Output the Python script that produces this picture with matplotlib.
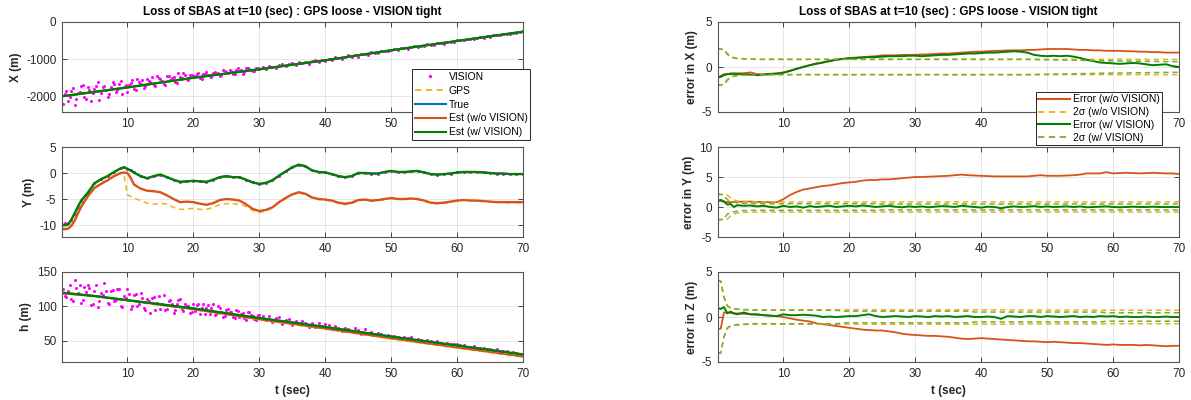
"""
Position estimate vs. truth and estimation errors after SBAS loss
(GPS loose coupling, VISION tight coupling).
"""

import numpy as np
import matplotlib.pyplot as plt
from matplotlib.lines import Line2D

plt.rcParams['font.family'] = ['Liberation Sans', 'DejaVu Sans']
plt.rcParams['axes.unicode_minus'] = False

C_BLUE = '#0072BD'
C_ORANGE = '#D95319'
C_YELLOW = '#EDB120'
C_GREEN = '#008000'
C_LGREEN = '#77AC30'
C_VISION = '#FF00FF'
C_AX = '#262626'

# --- VISION measurements (every 0.5 s, plus extra samples in the first 30 s) ---
t_vis = np.arange(0.5, 70.5, 0.5)
t_vis2 = np.arange(0.25, 30, 0.5)

vis_x = [
    -1928, -2126, -1844, -2232, -1910, -1728, -2006, -1744, -2112, -1790,
    -1618, -1916, -1714, -2012, -1750, -1658, -1836, -1594, -1752, -1870,
    -1627, -1794, -1541, -1668, -1785, -1532, -1609, -1686, -1443, -1540,
    -1667, -1464, -1561, -1468, -1635, -1472, -1379, -1546, -1413, -1450,
    -1399, -1517, -1406, -1344, -1463, -1361, -1390, -1458, -1297, -1345,
    -1294, -1392, -1291, -1319, -1388, -1246, -1265, -1313, -1232, -1260,
    -1218, -1276, -1184, -1212, -1250, -1168, -1126, -1194, -1142, -1110,
    -1168, -1076, -1114, -1072, -1130, -1058, -1016, -1064, -1012, -1050,
    -986, -1023, -949, -976, -992, -929, -895, -932, -888, -935,
    -851, -858, -874, -811, -827, -844, -780, -777, -783, -740,
    -727, -745, -697, -710, -717, -670, -647, -670, -637, -655,
    -602, -605, -612, -565, -572, -580, -532, -530, -532, -495,
    -482, -495, -452, -460, -462, -425, -402, -420, -387, -400,
    -357, -360, -357, -320, -322, -325, -287, -285, -282, -255,
]
vis_x2 = [
    -2194, -1842, -2030, -1778, -2076, -1894, -1692, -2080, -1818, -1906,
    -1714, -2102, -1750, -1828, -1946, -1604, -1872, -1670, -1928, -1706,
    -1693, -1570, -1827, -1624, -1571, -1728, -1575, -1482, -1709, -1516,
    -1573, -1690, -1447, -1514, -1601, -1368, -1505, -1422, -1569, -1426,
    -1454, -1383, -1521, -1390, -1428, -1477, -1335, -1364, -1432, -1311,
    -1369, -1308, -1396, -1245, -1303, -1342, -1250, -1279, -1317, -1236,
]

vis_h = [
    115.5, 122, 110.5, 138, 119.5, 105, 128.5, 131, 101.5, 123,
    99.5, 119, 133.5, 105, 122, 107.5, 125, 100, 115.5, 125,
    96.4, 115.8, 101.2, 119.6, 97, 110.4, 90.8, 113.2, 105.6, 96,
    116.4, 96.8, 109.2, 90.6, 104, 110.4, 92.8, 101.2, 89.6, 104,
    102.3, 88.6, 103.9, 98.2, 88.5, 102.8, 89.1, 97.4, 84.7, 95,
    91.3, 84.6, 94.9, 85.2, 90.5, 80.8, 91.1, 85.4, 80.7, 88,
    86.4, 79.7, 86.1, 77.4, 82.8, 85.1, 74.5, 79.8, 81.2, 73.5,
    78.9, 74.2, 78.6, 75.9, 70.3, 75.6, 70, 75.3, 71.7, 75,
    72.3, 66.6, 71.9, 68.2, 63.5, 68.8, 67.1, 63.4, 68.7, 65,
    60.3, 67.6, 61.9, 63.2, 58.5, 61.8, 60.1, 56.4, 58.7, 57,
    57.4, 55.7, 53, 55.4, 53.8, 55.1, 50.5, 52.8, 51.2, 49.5,
    50.9, 49.2, 46.6, 48.9, 47.3, 45.6, 47, 45.3, 44.7, 45,
    43.4, 43.7, 41.1, 41.4, 41.8, 38.1, 39.5, 39.8, 37.2, 37.5,
    36.9, 37.2, 34.6, 34.9, 34.3, 32.6, 33, 32.3, 30.7, 31,
]
vis_h2 = [
    125.75, 113.25, 130.75, 108.25, 126.75, 131.25, 108.75, 120.25, 126.75, 103.25,
    131.75, 108.25, 116.75, 122.25, 103.5, 123.75, 109.25, 125.5, 98.75, 112.25,
    117.7, 101.1, 118.5, 102.9, 112.3, 94.7, 108.1, 112.5, 94.9, 115.3,
    103.7, 94.1, 107.5, 103.9, 94.3, 108.7, 96.1, 103.5, 99.9, 91.3,
    92.65, 102.95, 97.25, 88.55, 101.85, 97.15, 87.45, 100.75, 92.05, 86.35,
    95.65, 91.95, 83.25, 92.55, 88.85, 83.15, 92.45, 86.75, 82.05, 87.35,
]

# --- X and h trajectories (every 5 s) ---
t5 = np.arange(0, 75, 5)
x_true = [-2000, -1880, -1760, -1630, -1500, -1385, -1270, -1150,
          -1030, -895, -760, -635, -510, -385, -260]
h_true = [120, 115, 109, 103, 97, 90, 83, 76.5, 70, 63, 56, 49.5, 43, 36.5, 30]
h_est_wo = [119, 115.3, 109, 102.3, 95.8, 88.5, 81, 74.3, 67.6, 60.4,
            53.2, 46.6, 39.9, 33.4, 26.8]
h_gps = [118.5, 114.5, 108, 101.5, 95, 88, 80.5, 73.5, 66.8, 59.8,
         52.8, 46, 39.3, 32.7, 26]
h_est_w = [120, 115, 109, 103, 97, 90, 83, 76.6, 70, 63, 56, 49.5, 43, 36.5, 30]

# --- Y trajectory ---
t_y = [0, 0.5, 1, 1.5, 2, 2.5, 3, 4, 5, 6, 7, 8, 9, 9.5, 10, 10.5] + list(range(11, 71))
y_est_w = [
    -9.9, -10, -9.9, -9, -7.8, -6.5, -5.3, -3.8, -2.0, -1.2, -0.6, 0.2, 0.9, 1.1, 0.8, 0.5,
    0.1, -0.6, -1.0, -0.6, -0.3, -0.8, -1.3, -1.7, -1.6, -1.5,
    -1.6, -1.7, -1.3, -0.8, -0.6, -0.8, -0.8, -1.3, -1.8, -2.1,
    -1.9, -1.4, -0.5, 0.3, 1.1, 1.6, 1.3, 0.5, 0.2, 0.1,
    -0.2, -0.6, -0.8, -0.6, 0.0, 0.0, -0.1, -0.1, 0.2, 0.4,
    0.2, 0.2, 0.3, 0.4, 0.1, -0.2, -0.3, -0.2, -0.1, 0.1,
    0.2, 0.2, 0.2, 0.1, 0.0, -0.1, -0.1, -0.2, -0.2, -0.2,
]
y_true = [-10.1, -10.1, -10.0] + y_est_w[3:]
y_vis = [-9.5, -9.6, -9.6] + y_est_w[3:]
y_est_wo = [
    -10.8, -10.8, -10.7, -10.2, -9.2, -7.8, -6.5, -4.5, -2.9, -2.1, -1.4, -0.6, 0.0, 0.1, 0.0, -0.9,
    -2.2, -3.0, -3.4, -3.5, -3.7, -4.3, -5.0, -5.6, -5.5, -5.6,
    -5.9, -6.1, -5.8, -5.2, -5.0, -5.1, -5.3, -6.0, -6.9, -7.3,
    -7.1, -6.6, -5.6, -4.8, -4.1, -3.7, -4.0, -4.7, -5.0, -5.1,
    -5.3, -5.7, -5.9, -5.7, -5.2, -5.1, -5.3, -5.2, -5.0, -4.8,
    -5.0, -5.0, -4.9, -5.0, -5.3, -5.7, -5.8, -5.7, -5.5, -5.3,
    -5.2, -5.3, -5.3, -5.4, -5.5, -5.6, -5.6, -5.6, -5.6, -5.6,
]
y_gps = [
    -10.6, -10.7, -10.6, -10.0, -9.0, -7.6, -6.3, -4.4, -2.8, -2.0, -1.3, -0.5, 0.1, -0.2, -4.2, -4.5,
    -4.8, -5.3, -5.8, -6.0, -5.8, -6.0, -6.6, -7.0, -6.9, -6.8,
    -7.0, -7.0, -6.6, -6.1, -5.9, -5.9, -6.0, -6.4, -7.2, -7.6,
    -7.3, -6.7, -5.7, -4.9, -4.2, -3.8, -4.1, -4.8, -5.1, -5.2,
    -5.4, -5.8, -6.1, -5.9, -5.3, -5.2, -5.4, -5.3, -5.1, -4.9,
    -5.0, -5.1, -5.0, -5.1, -5.4, -5.8, -5.9, -5.8, -5.6, -5.3,
    -5.2, -5.2, -5.3, -5.4, -5.5, -5.6, -5.7, -5.7, -5.7, -5.7,
]

# --- estimation errors and 2-sigma bounds ---
t_e = [0, 0.5, 1, 1.5, 2, 2.5, 3] + list(range(4, 71))

ex_wo = [
    -1.2, -1.0, -0.8, -0.8, -0.7, -0.7, -0.7,
    -0.7, -0.6, -0.8, -0.8, -0.75, -0.7, -0.6,
    -0.4, -0.2, 0.0, 0.2, 0.4, 0.5, 0.7, 0.8, 0.9, 1.0,
    1.05, 1.1, 1.15, 1.2, 1.3, 1.3, 1.3, 1.35, 1.35, 1.35,
    1.4, 1.4, 1.45, 1.5, 1.5, 1.55, 1.6, 1.65, 1.7, 1.7,
    1.75, 1.8, 1.8, 1.85, 1.85, 1.85, 1.9, 1.9, 1.95, 2.0,
    2.0, 2.0, 2.0, 1.95, 1.9, 1.9, 1.85, 1.85, 1.8, 1.8,
    1.8, 1.75, 1.75, 1.7, 1.7, 1.65, 1.65, 1.6, 1.6, 1.6,
]
ex_w = [
    -1.2, -1.1, -0.9, -0.8, -0.8, -0.75, -0.8,
    -0.8, -0.85, -0.9, -0.85, -0.8, -0.75, -0.65,
    -0.45, -0.2, 0.0, 0.2, 0.35, 0.5, 0.65, 0.8, 0.9, 0.95,
    1.0, 1.05, 1.1, 1.1, 1.15, 1.2, 1.2, 1.2, 1.25, 1.25,
    1.2, 1.25, 1.3, 1.35, 1.35, 1.4, 1.45, 1.5, 1.5, 1.55,
    1.6, 1.6, 1.65, 1.7, 1.75, 1.7, 1.6, 1.35, 1.25, 1.2,
    1.25, 1.2, 1.25, 1.15, 1.0, 0.8, 0.65, 0.5, 0.45, 0.4,
    0.35, 0.4, 0.45, 0.4, 0.3, 0.2, 0.25, 0.3, 0.1, 0.0,
]
sx_wo = [2.0, 2.0, 2.0, 1.5, 1.2, 1.0, 0.95, 0.9, 0.9] + [0.85] * 65
sx_w = [2.0, 2.0, 1.9, 1.4, 1.2, 1.0, 0.95, 0.9, 0.9] + [0.85] * 42 + [
    0.83, 0.82, 0.8, 0.79, 0.78, 0.77, 0.75, 0.74, 0.73, 0.72, 0.7, 0.69,
    0.68, 0.67, 0.66, 0.65, 0.64, 0.63, 0.62, 0.61, 0.6, 0.6, 0.6]

ey_wo = [
    1.0, 1.0, 0.9, 0.8, 0.8, 0.85, 0.85,
    0.9, 0.9, 0.85, 0.85, 0.8, 0.8, 1.3,
    2.0, 2.5, 2.9, 3.1, 3.3, 3.5, 3.6, 3.8, 4.0, 4.1,
    4.2, 4.4, 4.5, 4.5, 4.6, 4.6, 4.7, 4.8, 4.9, 5.0,
    5.0, 5.05, 5.1, 5.15, 5.2, 5.3, 5.4, 5.3, 5.25, 5.2,
    5.15, 5.1, 5.1, 5.1, 5.1, 5.1, 5.1, 5.2, 5.3, 5.2,
    5.2, 5.2, 5.25, 5.3, 5.4, 5.6, 5.6, 5.6, 5.8, 5.6,
    5.65, 5.7, 5.65, 5.6, 5.65, 5.7, 5.65, 5.6, 5.6, 5.5,
]
ey_w = [
    1.0, 1.2, 0.9, 0.4, 0.5, 0.0, 0.3,
    0.2, 0.25, 0.1, 0.2, 0.0, -0.1, 0.2,
    0.0, 0.1, -0.1, 0.15, 0.0, 0.1, 0.2, 0.0, 0.1, 0.2,
    0.1, 0.25, 0.15, 0.0, 0.1, 0.2, 0.05, -0.05, 0.1, 0.0,
    0.1, -0.05, 0.05, 0.15, 0.1, 0.0, 0.2, 0.1, 0.0, -0.1,
    0.05, 0.0, -0.2, 0.0, 0.1, 0.0, 0.05, 0.15, 0.0, 0.1,
    0.0, 0.05, 0.1, 0.0, 0.1, -0.05, 0.0, 0.05, 0.1, 0.0,
    -0.05, 0.0, 0.05, 0.0, 0.0, 0.05, 0.0, 0.0, 0.0, 0.0,
]
sy_wo = [2.1, 2.1, 2.1, 2.0, 1.5, 1.2, 1.0, 0.9] + [0.85] * 66
sy_w = [2.1, 2.1, 2.0, 1.2, 1.0, 0.8, 0.7, 0.6] + [0.55] * 20 + [0.5] * 46

ez_wo = [
    -1.3, -1.3, 0.5, 0.5, 0.45, 0.4, 0.4,
    0.35, 0.3, 0.25, 0.2, 0.15, 0.1, 0.0,
    -0.15, -0.3, -0.4, -0.5, -0.7, -0.8, -0.9, -1.0, -1.1, -1.2,
    -1.3, -1.4, -1.45, -1.5, -1.5, -1.6, -1.7, -1.85, -1.95, -2.0,
    -2.05, -2.1, -2.1, -2.15, -2.2, -2.3, -2.4, -2.45, -2.4, -2.35,
    -2.4, -2.45, -2.5, -2.55, -2.6, -2.65, -2.7, -2.7, -2.75, -2.8,
    -2.75, -2.8, -2.85, -2.9, -2.9, -2.95, -3.0, -3.05, -3.1, -3.05,
    -3.1, -3.1, -3.1, -3.15, -3.1, -3.15, -3.2, -3.25, -3.2, -3.2,
]
ez_w = [
    1.0, 0.9, 1.1, 0.4, 0.6, 0.4, 0.3,
    0.5, 0.3, 0.3, 0.2, 0.15, 0.1, 0.3,
    0.2, 0.2, 0.25, 0.2, 0.15, 0.0, 0.05, 0.0, 0.05, 0.1,
    0.1, 0.2, 0.3, 0.1, 0.0, 0.05, 0.1, 0.05, 0.0, 0.1,
    0.05, 0.0, 0.1, 0.05, 0.1, 0.0, 0.05, 0.1, 0.0, 0.0,
    0.05, 0.0, -0.2, 0.1, 0.05, 0.0, 0.1, 0.1, 0.0, 0.1,
    0.05, 0.0, 0.05, 0.1, 0.0, 0.05, 0.0, 0.1, 0.05, 0.1,
    0.0, 0.05, 0.0, 0.0, 0.05, 0.0, 0.0, 0.05, 0.0, 0.0,
]
sz_wo = [4.0, 4.0, 2.2, 1.3, 1.0, 0.95, 0.9, 0.85] + [0.8] * 40 + [0.78] * 13 + [0.75] * 13
sz_w = [4.0, 4.0, 2.2, 1.2, 1.0, 0.9, 0.85, 0.8] + [0.75] * 14 + [0.65] * 20 + [0.55] * 20 + [0.47] * 12

XTICKS = [10, 20, 30, 40, 50, 60, 70]
TITLE = 'Loss of SBAS at t=10 (sec) : GPS loose - VISION tight'
DASH = (0, (3.5, 2.5))

fig = plt.figure(figsize=(11.91, 4.0), dpi=100)

L_LEFT, R_LEFT, W = 0.0521, 0.6029, 0.3871
BOTTOMS = [0.72, 0.4075, 0.095]
H = 0.225


def style(ax, ylim, yticks, ylabel):
    ax.set_xlim(0.1, 70)
    ax.set_ylim(*ylim)
    ax.set_xticks(XTICKS)
    ax.set_yticks(yticks)
    ax.grid(True, color=C_AX, alpha=0.13, linewidth=0.6)
    ax.set_axisbelow(True)
    ax.tick_params(direction='in', length=3.5, width=0.6, top=True, right=True,
                   colors=C_AX, labelsize=8.5, pad=4)
    for s in ax.spines.values():
        s.set_color('#555555')
        s.set_linewidth(0.8)
    ax.set_ylabel(ylabel, fontsize=8.5, fontweight='bold', color=C_AX, labelpad=3)


# --- left column: trajectories ---
axX = fig.add_axes([L_LEFT, BOTTOMS[0], W, H])
axY = fig.add_axes([L_LEFT, BOTTOMS[1], W, H])
axH = fig.add_axes([L_LEFT, BOTTOMS[2], W, H])

dot = dict(linestyle='none', marker='o', markersize=2.2, markeredgewidth=0, color=C_VISION)

axX.plot(t_vis, vis_x, **dot)
axX.plot(t_vis2, vis_x2, **dot)
axX.plot(t5, x_true, color=C_YELLOW, lw=1.1, ls=DASH)
axX.plot(t5, x_true, color=C_BLUE, lw=1.3)
axX.plot(t5, x_true, color=C_ORANGE, lw=1.3)
axX.plot(t5, x_true, color=C_GREEN, lw=1.7)
style(axX, (-2420, 0), [-2000, -1000, 0], 'X (m)')
axX.set_title(TITLE, fontsize=8.5, fontweight='bold', color='black', pad=5)

axY.plot(t_y, y_vis, **dot)
axY.plot(t_y, y_gps, color=C_YELLOW, lw=1.1, ls=DASH)
axY.plot(t_y, y_true, color=C_BLUE, lw=1.3)
axY.plot(t_y, y_est_wo, color=C_ORANGE, lw=1.7)
axY.plot(t_y, y_est_w, color=C_GREEN, lw=1.7)
style(axY, (-12.3, 5), [-10, -5, 0, 5], 'Y (m)')

axH.plot(t_vis, vis_h, **dot)
axH.plot(t_vis2, vis_h2, **dot)
axH.plot(t5, h_gps, color=C_YELLOW, lw=1.1, ls=DASH)
axH.plot(t5, h_true, color=C_BLUE, lw=1.3)
axH.plot(t5, h_est_wo, color=C_ORANGE, lw=1.3)
axH.plot(t5, h_est_w, color=C_GREEN, lw=1.7)
style(axH, (19, 150), [50, 100, 150], 'h (m)')
axH.set_xlabel('t (sec)', fontsize=8.5, fontweight='bold', color=C_AX, labelpad=4)

# --- right column: errors with 2-sigma bounds ---
axEX = fig.add_axes([R_LEFT, BOTTOMS[0], W, H])
axEY = fig.add_axes([R_LEFT, BOTTOMS[1], W, H])
axEZ = fig.add_axes([R_LEFT, BOTTOMS[2], W, H])

err_sets = [
    (axEX, ex_wo, sx_wo, ex_w, sx_w, (-5, 5), [-5, 0, 5], 'error in X (m)'),
    (axEY, ey_wo, sy_wo, ey_w, sy_w, (-5, 10), [-5, 0, 5, 10], 'error in Y (m)'),
    (axEZ, ez_wo, sz_wo, ez_w, sz_w, (-5, 5), [-5, 0, 5], 'error in Z (m)'),
]
for ax, e_wo, s_wo, e_w, s_w, ylim, yt, lab in err_sets:
    s_wo = np.array(s_wo)
    s_w = np.array(s_w)
    ax.plot(t_e, e_wo, color=C_ORANGE, lw=1.3)
    ax.plot(t_e, s_wo, color=C_YELLOW, lw=1.1, ls=DASH)
    ax.plot(t_e, -s_wo, color=C_YELLOW, lw=1.1, ls=DASH)
    ax.plot(t_e, e_w, color=C_GREEN, lw=1.4)
    ax.plot(t_e, s_w, color=C_LGREEN, lw=1.1, ls=DASH)
    ax.plot(t_e, -s_w, color=C_LGREEN, lw=1.1, ls=DASH)
    style(ax, ylim, yt, lab)

axEX.set_title(TITLE, fontsize=8.5, fontweight='bold', color='black', pad=5)
axEZ.set_xlabel('t (sec)', fontsize=8.5, fontweight='bold', color=C_AX, labelpad=4)

# --- legends (drawn over the neighbouring axes) ---
leg_kw = dict(loc='upper left', fontsize=7.5, frameon=True, fancybox=False,
              framealpha=1, edgecolor=C_AX, handlelength=3.0, handletextpad=0.3,
              borderaxespad=0)

h_left = [
    Line2D([], [], linestyle='none', marker='o', markersize=2.4, markeredgewidth=0, color=C_VISION),
    Line2D([], [], color=C_YELLOW, lw=1.3, ls=DASH),
    Line2D([], [], color=C_BLUE, lw=1.5),
    Line2D([], [], color=C_ORANGE, lw=1.5),
    Line2D([], [], color=C_GREEN, lw=1.5),
]
lg1 = fig.legend(h_left, ['VISION', 'GPS', 'True', 'Est (w/o VISION)', 'Est (w/ VISION)'],
                 bbox_to_anchor=(412 / 1191, 1 - 69 / 400),
                 labelspacing=0.38, borderpad=0.25, **leg_kw)
lg1.get_frame().set_linewidth(0.7)

h_right = [
    Line2D([], [], color=C_ORANGE, lw=1.5),
    Line2D([], [], color=C_YELLOW, lw=1.3, ls=DASH),
    Line2D([], [], color=C_GREEN, lw=1.5),
    Line2D([], [], color=C_LGREEN, lw=1.3, ls=DASH),
]
lg2 = fig.legend(h_right, ['Error (w/o VISION)', '2σ (w/o VISION)',
                           'Error (w/ VISION)', '2σ (w/ VISION)'],
                 bbox_to_anchor=(1036 / 1191, 1 - 92 / 400),
                 labelspacing=0.28, borderpad=0.22, **leg_kw)
lg2.get_frame().set_linewidth(0.7)

plt.savefig('out.png', dpi=100, facecolor='white')
